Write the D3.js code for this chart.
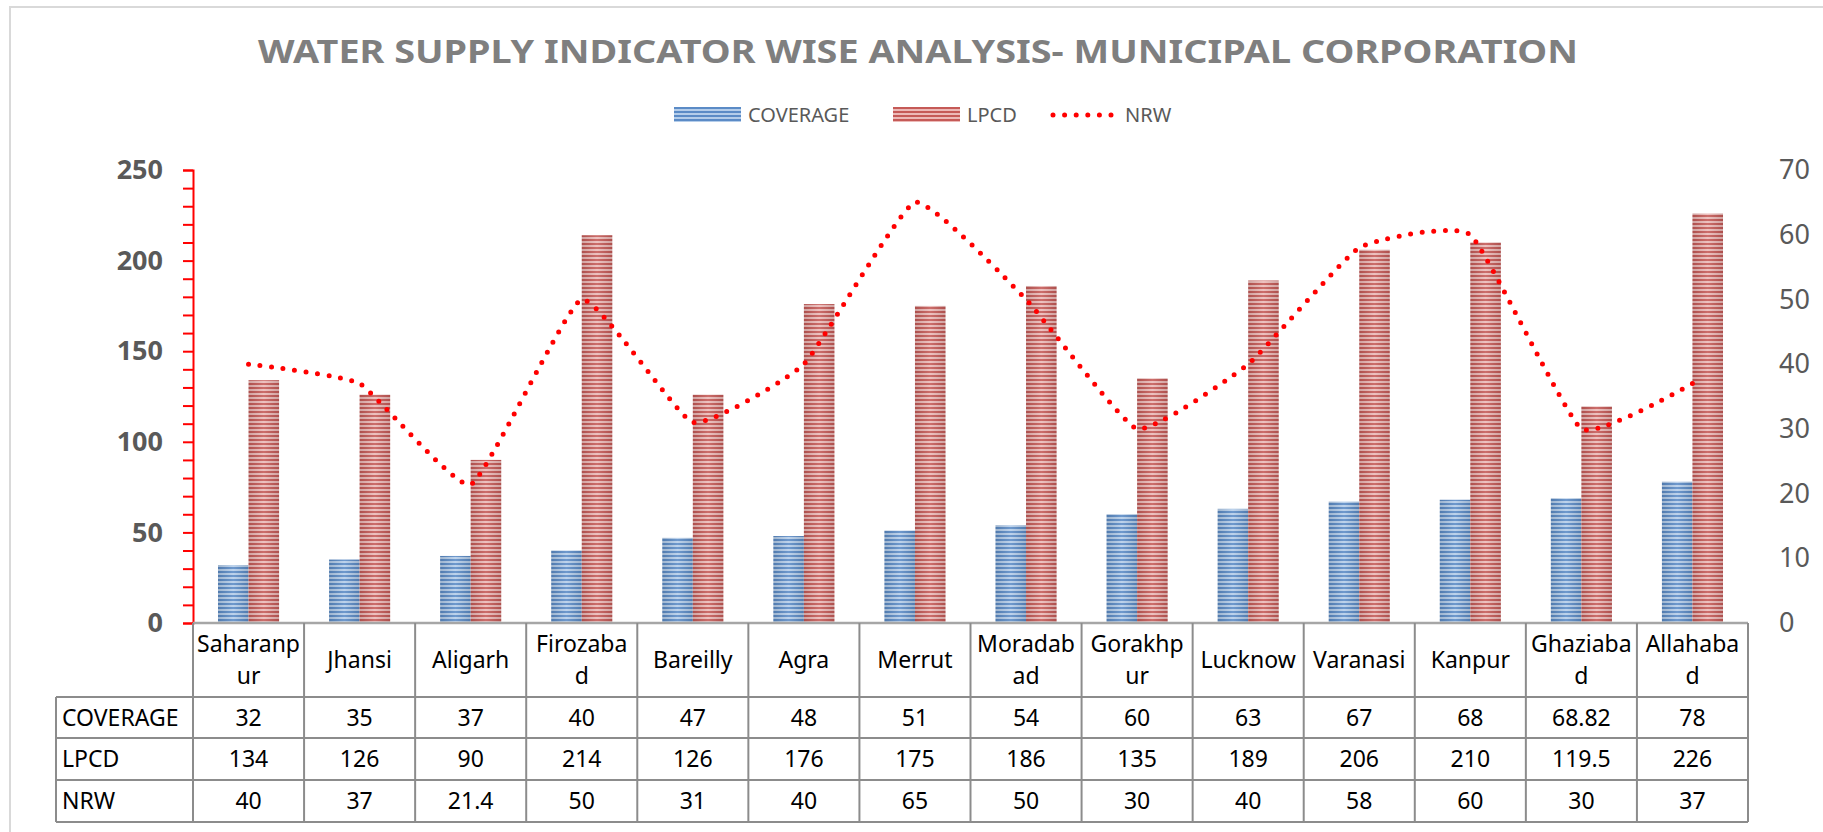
<!DOCTYPE html>
<html><head><meta charset="utf-8">
<script src="https://cdn.jsdelivr.net/npm/d3@7"></script>
<style>html,body{margin:0;padding:0;background:#fff;}svg{display:block;}</style>
</head><body>
<script>
const categories = ["Saharanpur","Jhansi","Aligarh","Firozabad","Bareilly","Agra","Merrut","Moradabad","Gorakhpur","Lucknow","Varanasi","Kanpur","Ghaziabad","Allahabad"];
const categoryLabelLines = [["Saharanp","ur"],["Jhansi"],["Aligarh"],["Firozaba","d"],["Bareilly"],["Agra"],["Merrut"],["Moradab","ad"],["Gorakhp","ur"],["Lucknow"],["Varanasi"],["Kanpur"],["Ghaziaba","d"],["Allahaba","d"]];
const coverage = [32,35,37,40,47,48,51,54,60,63,67,68,68.82,78];
const lpcd = [134,126,90,214,126,176,175,186,135,189,206,210,119.5,226];
const nrw = [40,37,21.4,50,31,40,65,50,30,40,58,60,30,37];
const seriesNames = ["COVERAGE","LPCD","NRW"];
const leftTicks = d3.range(0, 251, 10);
const leftLabelTicks = [0,50,100,150,200,250];
const rightTicks = [0,10,20,30,40,50,60,70];
const title = "WATER SUPPLY INDICATOR WISE ANALYSIS- MUNICIPAL CORPORATION";

const W = 1823, H = 832;
const plot = {left:193, right:1748, top:170, bottom:623};
const tableLeft = 56;
const rowBounds = [623, 697, 738, 780, 822];

const svg = d3.select("body").append("svg").attr("width", W).attr("height", H);
svg.append("rect").attr("width", W).attr("height", H).attr("fill", "#fff");

const defs = svg.append("defs");
function stripe(id, dark, light) {
  const p = defs.append("pattern").attr("id", id).attr("patternUnits", "userSpaceOnUse")
    .attr("width", 8).attr("height", 4).attr("y", plot.bottom);
  p.append("rect").attr("width", 8).attr("height", 4).attr("fill", light);
  p.append("rect").attr("width", 8).attr("height", 2).attr("fill", dark);
}
stripe("pBlue", "#5b8bc6", "#b4cdea");
stripe("pRed", "#c55a57", "#ecb9b7");
const g = defs.append("linearGradient").attr("id", "shade").attr("x1", 0).attr("x2", 1).attr("y1", 0).attr("y2", 0);
g.append("stop").attr("offset", 0).attr("stop-color", "#000").attr("stop-opacity", 0.12);
g.append("stop").attr("offset", 0.5).attr("stop-color", "#fff").attr("stop-opacity", 0.12);
g.append("stop").attr("offset", 1).attr("stop-color", "#000").attr("stop-opacity", 0.12);

// outer border
svg.append("path").attr("d", `M10,${H} L10,7 L${W},7`).attr("fill", "none").attr("stroke", "#d9d9d9").attr("stroke-width", 2);

// title
svg.append("text").attr("x", 258).attr("y", 63).attr("textLength", 1320).attr("lengthAdjust", "spacingAndGlyphs")
  .attr("font-family", "'Noto Sans', 'DejaVu Sans', sans-serif").attr("font-weight", "bold").attr("font-size", 32)
  .attr("fill", "#7f7f7f").text(title);

// scales
const x = d3.scaleBand().domain(categories).range([plot.left, plot.right]).padding(0);
const yL = d3.scaleLinear().domain([0, 250]).range([plot.bottom, plot.top]);
const yR = d3.scaleLinear().domain([0, 70]).range([plot.bottom, plot.top]);
const bw = x.bandwidth() * 0.275;

// bars
const bars = svg.append("g");
categories.forEach((c, i) => {
  const cx = x(c) + x.bandwidth() / 2;
  [[coverage[i], cx - bw, "pBlue"], [lpcd[i], cx, "pRed"]].forEach(([v, bx, pat]) => {
    bars.append("rect").attr("x", bx).attr("y", yL(v)).attr("width", bw).attr("height", yL(0) - yL(v)).attr("fill", `url(#${pat})`);
    bars.append("rect").attr("x", bx).attr("y", yL(v)).attr("width", bw).attr("height", yL(0) - yL(v)).attr("fill", "url(#shade)");
  });
});

// NRW line
const line = d3.line().x((d, i) => x(categories[i]) + x.bandwidth() / 2).y(d => yR(d)).curve(d3.curveCardinal.tension(0.6));
svg.append("path").attr("d", line(nrw)).attr("fill", "none").attr("stroke", "#ff0000").attr("stroke-width", 5)
  .attr("stroke-linecap", "round").attr("stroke-dasharray", "0 11.6");

// left axis
const axL = svg.append("g").attr("transform", `translate(${plot.left},0)`)
  .call(d3.axisLeft(yL).tickValues(leftTicks).tickSize(10).tickPadding(20)
    .tickFormat(d => leftLabelTicks.includes(d) ? d : ""));
axL.select(".domain").attr("stroke", "#ff0000").attr("stroke-width", 2);
axL.selectAll(".tick line").attr("stroke", "#ff0000").attr("stroke-width", 2);
axL.selectAll(".tick text").attr("font-family", "'Noto Sans', sans-serif").attr("font-weight", "bold")
  .attr("font-size", 27).attr("fill", "#595959");

// right axis
const axR = svg.append("g").attr("transform", `translate(${plot.right},0)`)
  .call(d3.axisRight(yR).tickValues(rightTicks).tickSize(0).tickPadding(31));
axR.select(".domain").remove();
axR.selectAll(".tick text").attr("font-family", "'Noto Sans', sans-serif").attr("font-size", 27).attr("fill", "#595959");

// data table
const tbl = svg.append("g").attr("font-family", "'Noto Sans', sans-serif").attr("font-size", 23).attr("fill", "#000");
const lineC = "#8c8c8c";
tbl.append("line").attr("x1", plot.left).attr("x2", plot.right).attr("y1", rowBounds[0]).attr("y2", rowBounds[0]).attr("stroke", "#a6a6a6").attr("stroke-width", 2.5);
rowBounds.slice(1).forEach(yb => {
  tbl.append("line").attr("x1", tableLeft).attr("x2", plot.right).attr("y1", yb).attr("y2", yb).attr("stroke", lineC).attr("stroke-width", 2);
});
tbl.append("line").attr("x1", tableLeft).attr("x2", tableLeft).attr("y1", rowBounds[1]).attr("y2", rowBounds[4]).attr("stroke", lineC).attr("stroke-width", 2);
categories.forEach(c => {
  tbl.append("line").attr("x1", x(c)).attr("x2", x(c)).attr("y1", rowBounds[0]).attr("y2", rowBounds[4]).attr("stroke", lineC).attr("stroke-width", 2);
});
tbl.append("line").attr("x1", plot.right).attr("x2", plot.right).attr("y1", rowBounds[0]).attr("y2", rowBounds[4]).attr("stroke", lineC).attr("stroke-width", 2);

categories.forEach((c, i) => {
  const cx = x(c) + x.bandwidth() / 2;
  const lines = categoryLabelLines[i];
  const mid = (rowBounds[0] + rowBounds[1]) / 2;
  lines.forEach((t, k) => {
    const yy = mid + (k - (lines.length - 1) / 2) * 32;
    tbl.append("text").attr("x", cx).attr("y", yy).attr("dy", "0.36em").attr("text-anchor", "middle").text(t);
  });
});
[coverage, lpcd, nrw].forEach((arr, r) => {
  const mid = (rowBounds[r + 1] + rowBounds[r + 2]) / 2;
  tbl.append("text").attr("x", tableLeft + 6).attr("y", mid).attr("dy", "0.36em").text(seriesNames[r]);
  arr.forEach((v, i) => {
    tbl.append("text").attr("x", x(categories[i]) + x.bandwidth() / 2).attr("y", mid).attr("dy", "0.36em")
      .attr("text-anchor", "middle").text(String(v));
  });
});

// legend
const lg = svg.append("g").attr("font-family", "'Noto Sans', sans-serif").attr("font-size", 20).attr("fill", "#595959");
lg.append("rect").attr("x", 674).attr("y", 107).attr("width", 67).attr("height", 15).attr("fill", "url(#pBlue)");
lg.append("text").attr("x", 748).attr("y", 115).attr("dy", "0.36em").text(seriesNames[0]);
lg.append("rect").attr("x", 893).attr("y", 107).attr("width", 67).attr("height", 15).attr("fill", "url(#pRed)");
lg.append("text").attr("x", 967).attr("y", 115).attr("dy", "0.36em").text(seriesNames[1]);
lg.append("line").attr("x1", 1053).attr("x2", 1112).attr("y1", 115).attr("y2", 115).attr("stroke", "#ff0000")
  .attr("stroke-width", 5).attr("stroke-linecap", "round").attr("stroke-dasharray", "0 11.6");
lg.append("text").attr("x", 1125).attr("y", 115).attr("dy", "0.36em").text(seriesNames[2]);
</script>
</body></html>
